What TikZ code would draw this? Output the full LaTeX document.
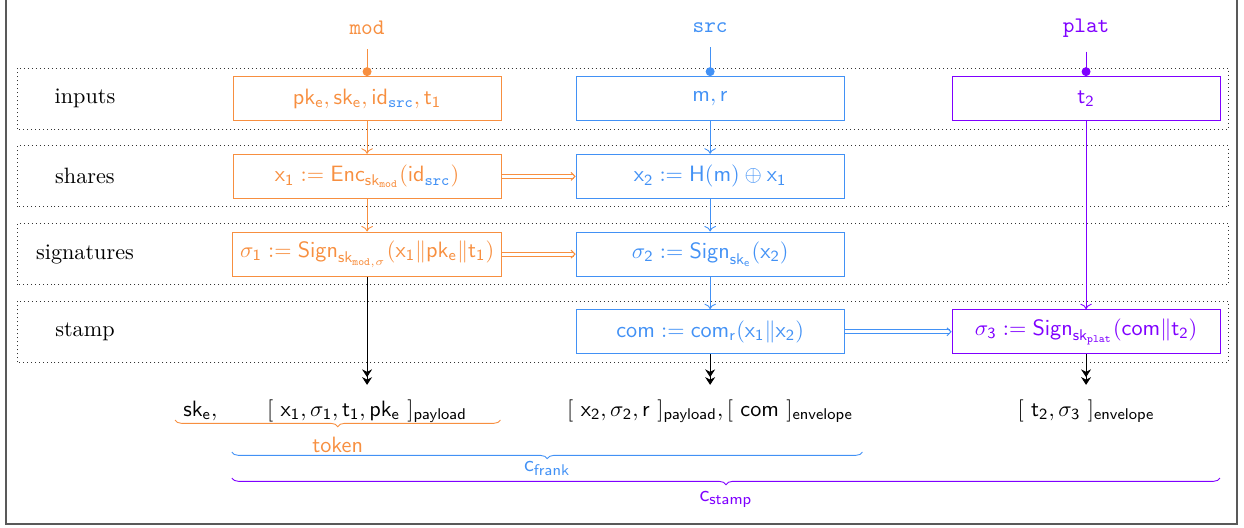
\documentclass[tikz,border=0pt]{standalone}
\usepackage{amssymb, amsmath}
\usepackage{tikz}
\usetikzlibrary{arrows.meta, decorations.pathreplacing}

\definecolor{modc}{RGB}{247,143,64}
\definecolor{srcc}{RGB}{66,145,245}
\definecolor{platc}{RGB}{127,0,255}

\newcommand{\srcid}{\textcolor{srcc}{\mathtt{src}}}

\tikzset{
  box/.style={draw, line width=0.45pt, minimum width=4.24cm, minimum height=0.7cm},
  band/.style={dash pattern=on 0.4pt off 1.4pt, black!80},
  outarrow/.style={-{Stealth[length=3.5pt,width=4.5pt]Stealth[length=3.5pt,width=4.5pt]}, shorten >=3pt},
  feed/.style={-{Circle[length=4pt]}, shorten <=3pt},
  pass/.style={double, double distance=1.3pt, line width=0.45pt, -{Straight Barb[length=1.8pt, width=3.6pt]}},
  grp/.style={decorate, decoration={brace, mirror, amplitude=3pt}},
}

\begin{document}
\begin{tikzpicture}
      \useasboundingbox (0,0) rectangle (19.69,8.342);
      \draw[gray!70!black, line width=0.8pt] (0.095,0.047) rectangle (19.58,8.45);
      % Rows:
      \foreach \y/\r in {6.78/inputs, 5.55/shares, 4.32/signatures, 3.09/stamp} {
        \draw[band] (0.27,\y-0.483) rectangle (19.44,\y+0.483);
        \node (row-\r) at (1.345,\y) {\r};
      }
      % Parties:
      \node[modc, font=\ttfamily] (mod) at (5.81,7.90) {mod};
      \node[srcc, font=\ttfamily] (src) at (11.24,7.90) {src};
      \node[platc, font=\ttfamily] (plat) at (17.19,7.90) {plat};
      % Boxes:
      \node[box, modc] (in1) at (5.81,6.78) {$\mathsf{pk_e}, \mathsf{sk_e}, \mathsf{id}_{\srcid}, \mathsf{t_1}$};
      \node[box, srcc] (in2) at (11.24,6.78) {$\mathsf{m}, \mathsf{r}$};
      \node[box, platc] (in3) at (17.19,6.78) {$\mathsf{t_2}$};
      \node[box, modc] (sh1) at (5.81,5.55) {$\mathsf{x_1} := \mathsf{Enc}_{\mathsf{sk}_{\mathtt{mod}}}(\mathsf{id}_{\srcid})$};
      \node[box, srcc] (sh2) at (11.24,5.55) {$\mathsf{x_2} := \mathsf{H}(\mathsf{m}) \oplus \mathsf{x_1}$};
      \node[box, modc] (sg1) at (5.81,4.32) {$\sigma_{\mathsf{1}} := \mathsf{Sign}_{\mathsf{sk}_{\mathtt{mod},\sigma}}(\mathsf{x_1} \| \mathsf{pk_e} \| \mathsf{t_1})$};
      \node[box, srcc] (sg2) at (11.24,4.32) {$\sigma_{\mathsf{2}} := \mathsf{Sign}_{\mathsf{sk_e}}(\mathsf{x_2})$};
      \node[box, srcc] (st2) at (11.24,3.09) {$\mathsf{com} := \mathsf{com_r}(\mathsf{x_1} \| \mathsf{x_2})$};
      \node[box, platc] (st3) at (17.19,3.09) {$\sigma_{\mathsf{3}} := \mathsf{Sign}_{\mathsf{sk}_{\mathtt{plat}}}(\mathsf{com} \| \mathsf{t_2})$};
      % Outputs:
      \node[anchor=base] (ske) at (3.17,1.757) {$\mathsf{sk_e},$};
      \node[anchor=base] (pay1) at (5.81,1.757) {$[\ \mathsf{x_1}, \sigma_{\mathsf{1}}, \mathsf{t_1}, \mathsf{pk_e}\ ]_{\mathsf{payload}}$};
      \node[anchor=base] (pay2) at (11.24,1.757) {$[\ \mathsf{x_2}, \sigma_{\mathsf{2}}, \mathsf{r}\ ]_{\mathsf{payload}}, [\ \mathsf{com}\ ]_{\mathsf{envelope}}$};
      \node[anchor=base] (env3) at (17.19,1.757) {$[\ \mathsf{t_2}, \sigma_{\mathsf{3}}\ ]_{\mathsf{envelope}}$};
      % Arrows:
      \draw[modc, feed] (mod) -- (in1);
      \draw[srcc, feed] (src) -- (in2);
      \draw[platc, feed] (plat) -- (in3);
      \draw[modc, ->] (in1) -- (sh1);
      \draw[modc, ->] (sh1) -- (sg1);
      \draw[srcc, ->] (in2) -- (sh2);
      \draw[srcc, ->] (sh2) -- (sg2);
      \draw[srcc, ->] (sg2) -- (st2);
      \draw[platc, ->] (in3) -- (st3);
      \draw[modc, pass] (sh1) -- (sh2);
      \draw[modc, pass] (sg1) -- (sg2);
      \draw[srcc, pass] (st2) -- (st3);
      \draw[outarrow] (sg1) -- (pay1);
      \draw[outarrow] (st2) -- (pay2);
      \draw[outarrow] (st3) -- (env3);
      % Braces:
      \draw[modc, grp] (2.77,1.694) -- (7.92,1.694) node[midway, below=4pt] (token) {\textsf{token}};
      \draw[srcc, grp] (3.67,1.187) -- (13.65,1.187) node[midway, below=1pt] (cfrank) {$\mathsf{c_{frank}}$};
      \draw[platc, grp] (3.67,0.776) -- (19.31,0.776) node[midway, below=2.5pt] (cstamp) {$\mathsf{c_{stamp}}$};
\end{tikzpicture}
\end{document}
